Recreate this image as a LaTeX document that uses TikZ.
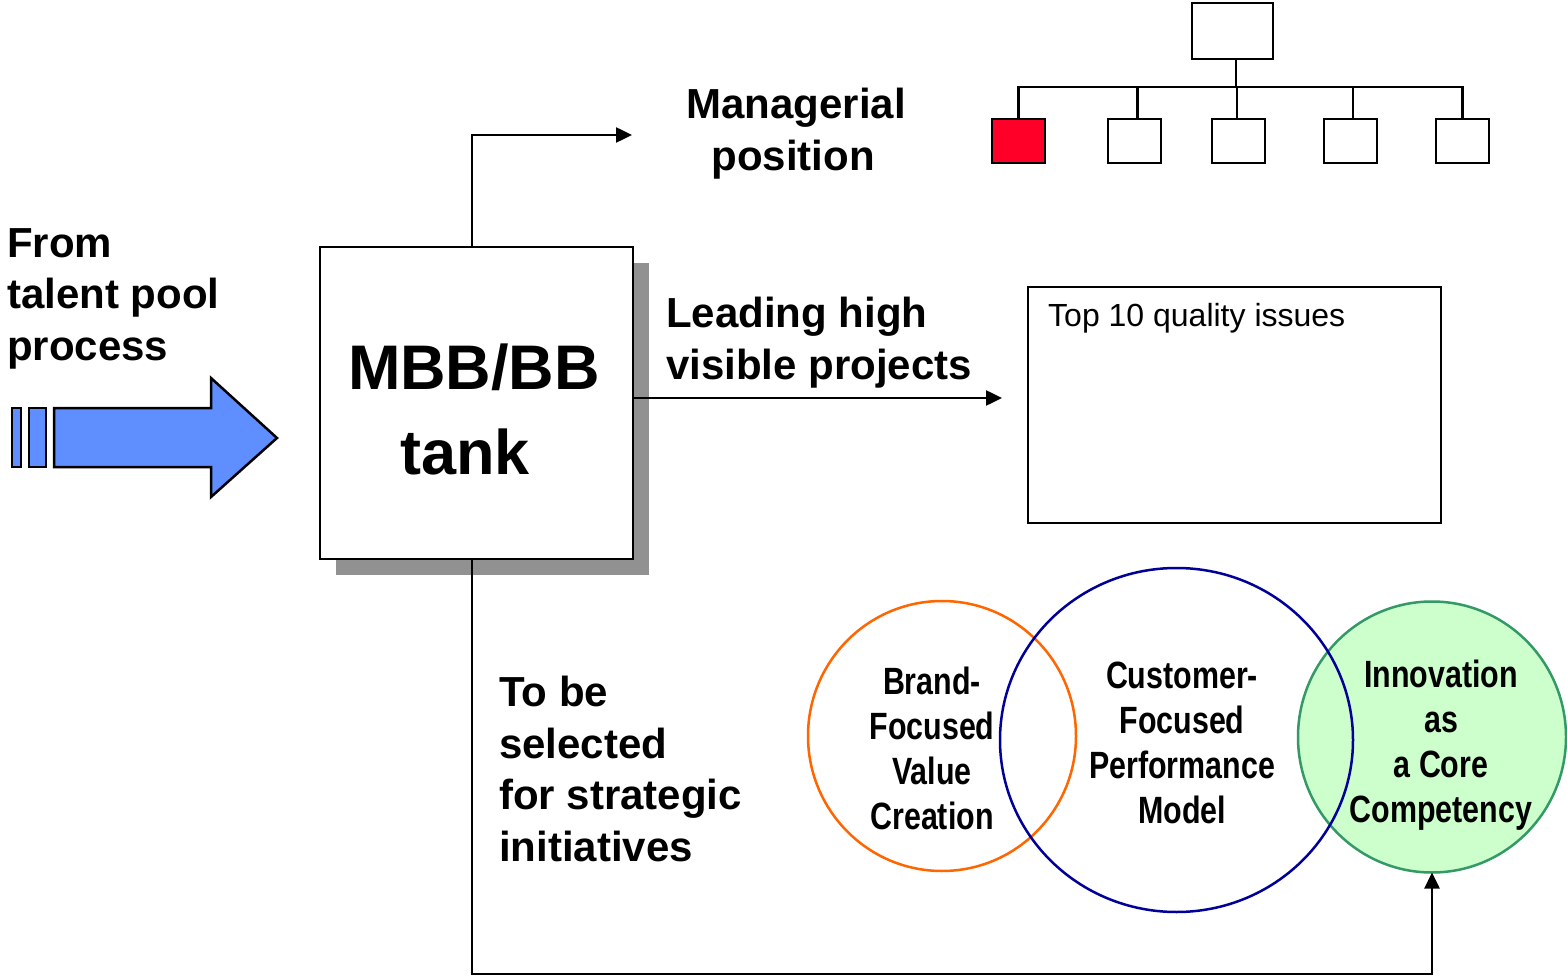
\documentclass[tikz,border=0pt]{standalone}
\usepackage{fontspec}
\setmainfont{Liberation Sans}
\newfontfamily\narrowfont[FakeStretch=0.8]{Liberation Sans}
\usetikzlibrary{arrows.meta,shapes.geometric,shadows}
\definecolor{arrowblue}{RGB}{94,142,255}
\definecolor{shadowgray}{RGB}{145,145,145}
\definecolor{orgred}{RGB}{255,0,40}
\definecolor{vorange}{RGB}{255,102,0}
\definecolor{vblue}{RGB}{0,0,153}
\definecolor{vgreen}{RGB}{51,153,102}
\definecolor{vgreenfill}{RGB}{204,255,204}
\tikzset{
  lbl/.style={font=\fontsize{42}{51.5}\selectfont\bfseries, inner sep=0pt, align=left},
  vlbl/.style={font=\narrowfont\fontsize{38}{45}\selectfont\bfseries, inner sep=0pt, align=center},
  orgbox/.style={draw=black, line width=2.5pt, fill=white, inner sep=0pt, outer sep=0pt},
  conn/.style={draw=black, line width=2.5pt},
  arr/.style={conn, -{Triangle[length=16pt,width=15pt]}},
  vcircle/.style={ellipse, inner sep=0pt, outer sep=0pt, line width=2.5pt},
}
\begin{document}
\begin{tikzpicture}[x=1pt,y=-1pt]
\useasboundingbox (0,0) rectangle (1567,976);

% big blue arrow
\filldraw[fill=arrowblue, draw=black, line width=2.5pt]
  (12,408) rectangle (21,467);
\filldraw[fill=arrowblue, draw=black, line width=2.5pt]
  (29,408) rectangle (46,467);
\filldraw[fill=arrowblue, draw=black, line width=2.5pt, line join=miter]
  (54,408) -- (211,408) -- (211,378) -- (277,438) -- (211,497) -- (211,467) -- (54,467) -- cycle;

\node[lbl, anchor=north west] (from) at (7,228) {From\\talent pool\\process};

% main box
\node[draw=black, line width=2.5pt, fill=white, minimum width=313pt, minimum height=312pt,
      inner sep=0pt, outer sep=0pt,
      drop shadow={shadow xshift=16pt, shadow yshift=-16pt, fill=shadowgray, opacity=1}]
  (tank) at (476.5,403) {};
\node[font=\fontsize{63}{85}\selectfont\bfseries, inner sep=0pt, align=center, anchor=north]
  (tanktxt) at (474,344) {MBB/BB\\tank\hspace*{18pt}};

% managerial position
\coordinate (mgr) at (632,135);
\draw[arr] ([xshift=-4.5pt]tank.north) |- (mgr);
\node[lbl, align=center, anchor=north] (mgrtxt) at (796,88) {Managerial\\position\hspace*{6pt}};

% org chart
\node[orgbox, minimum width=81pt, minimum height=56pt] (otop) at (1232.5,31) {};
\node[orgbox, fill=orgred, minimum width=53pt, minimum height=44pt] (c1) at (1018.5,141) {};
\node[orgbox, minimum width=53pt, minimum height=44pt] (c2) at (1134.5,141) {};
\node[orgbox, minimum width=53pt, minimum height=44pt] (c3) at (1238.5,141) {};
\node[orgbox, minimum width=53pt, minimum height=44pt] (c4) at (1350.5,141) {};
\node[orgbox, minimum width=53pt, minimum height=44pt] (c5) at (1462.5,141) {};
\coordinate (bus) at (1236,87);
\draw[conn] (c1.north) -- (c1.north |- bus) -- (c5.north |- bus) -- (c5.north);
\draw[conn] ([xshift=3pt]c2.north) -- ([xshift=3pt]c2.north |- bus);
\draw[conn] ([xshift=-1.5pt]c3.north) -- ([xshift=-1.5pt]c3.north |- bus);
\draw[conn] ([xshift=2.5pt]c4.north) -- ([xshift=2.5pt]c4.north |- bus);
\draw[conn] ([xshift=3.5pt]otop.south) -- (bus);

% leading projects
\node[lbl, anchor=north west] (lead) at (666,297) {Leading high\\visible projects};
\coordinate (proj) at (1002,398);
\draw[arr] (tank.east |- proj) -- (proj);
\node[draw=black, line width=2.5pt, minimum width=413pt, minimum height=236pt, inner sep=0pt]
  (issues) at (1234.5,405) {};
\node[font=\fontsize{32}{38}\selectfont, inner sep=0pt, anchor=north west] (issuestxt) at (1048,303)
  {Top 10 quality issues};

% strategic initiatives
\node[lbl, anchor=north west] (strat) at (499,676) {To be\\selected\\for strategic\\initiatives};

% venn
\node[vcircle, fill=vgreenfill, draw=vgreen, minimum width=268pt, minimum height=271pt] (green) at (1432,737) {};
\node[vcircle, draw=vorange, minimum width=268pt, minimum height=270pt] (orange) at (942,736) {};
\node[vcircle, draw=vblue, minimum width=353pt, minimum height=344pt] (blue) at (1176.5,740) {};

\node[vlbl, anchor=north] (brandtxt) at (932,667) {Brand-\\Focused\\Value\\Creation};
\node[vlbl, anchor=north] (custtxt) at (1182,662) {Customer-\\Focused\\Performance\\Model};
\node[vlbl, anchor=north] (innotxt) at (1441,660) {Innovation\\as\\a Core\\Competency};

\coordinate (bot) at (1432,974);
\draw[arr] ([xshift=-4.5pt]tank.south) |- (bot) -- (green.south);
\end{tikzpicture}
\end{document}
